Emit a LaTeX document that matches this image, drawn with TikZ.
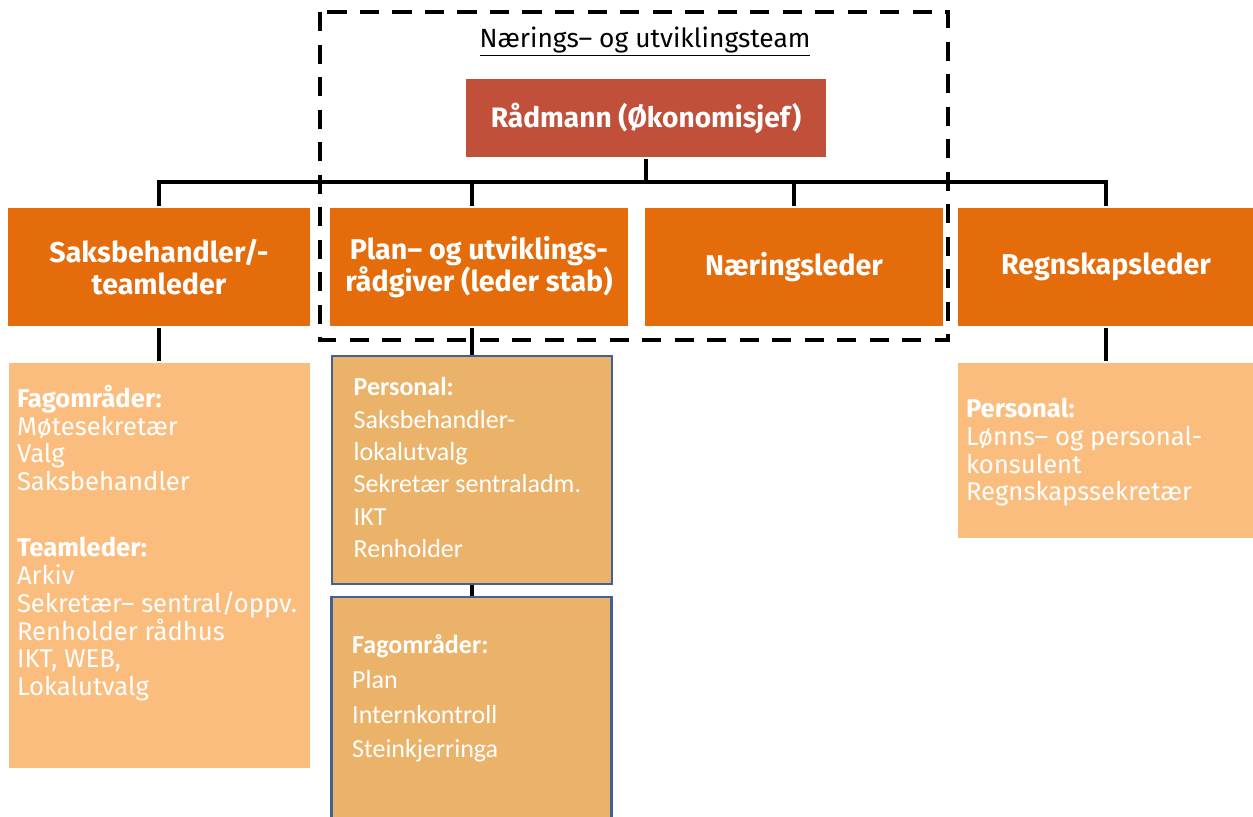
\documentclass[tikz,border=0pt]{standalone}
\usepackage{fontspec}
\setmainfont{Fira Sans}
\newfontfamily\calfont{Carlito}
\usetikzlibrary{positioning}
\usetikzlibrary{calc}

\definecolor{raadred}{RGB}{192,80,58}
\definecolor{leadorange}{RGB}{228,108,10}
\definecolor{lightorange}{RGB}{251,189,126}
\definecolor{staborange}{RGB}{235,179,106}
\definecolor{stabblue}{RGB}{65,96,154}

\newlength\pxu
\setlength\pxu{0.02cm}

\begin{document}
\begin{tikzpicture}[
                x = 0.02cm, y = -0.02cm, % one unit = one pixel
                line width = 2pt, % connector style
                inner sep = 0pt
        ]

        \tikzstyle{leader}=[
            fill = leadorange,
            text = white,
            font = \fontsize{16.3}{18.5}\selectfont\bfseries,
            align = center,
            minimum height = 118\pxu
        ]
        \tikzstyle{lightbox}=[
            fill = lightorange,
            minimum width = 300\pxu
        ]
        \tikzstyle{stabbox}=[
            fill = staborange,
            draw = stabblue,
            line width = 1.2pt,
            minimum width = 280\pxu
        ]
        \tikzstyle{listtext}=[
            text = white,
            align = left,
            anchor = north west,
            font = \fontsize{14.6}{15.8}\selectfont
        ]
        \tikzstyle{stabtext}=[
            text = white,
            align = left,
            anchor = north west,
            font = \calfont\fontsize{14.8}{18.4}\selectfont
        ]
        \tikzstyle{teamframe}=[
            line width = 2.3pt,
            dash pattern = on 11pt off 7.5pt
        ]

        \useasboundingbox (0,0) rectangle (1253,816);

        % top of the chart
        \node (teamtitle) at (645,42) {\fontsize{15}{17}\selectfont\underline{Nærings– og utviklingsteam}};
        \node[fill = raadred, text = white, font = \fontsize{16}{18}\selectfont\bfseries,
              minimum width = 360\pxu, minimum height = 78\pxu] (rad) at (646,118) {Rådmann (Økonomisjef)};

        % leaders
        \node[leader, minimum width = 302\pxu] (saks) at (159,267) {Saksbehandler/-\\teamleder};
        \node[leader, minimum width = 298\pxu] (plan) at (479,267) {Plan– og utviklings-\\rådgiver (leder stab)};
        \node[leader, minimum width = 298\pxu] (naering) at (794,267) {Næringsleder};
        \node[leader, minimum width = 296\pxu] (regn) at (1106,267) {Regnskapsleder};

        % boxes below
        \node[lightbox, minimum width = 301\pxu, minimum height = 405\pxu] (fag) at (159.5,565.5) {};
        \node[stabbox, minimum height = 228\pxu] (pers) at (472,470) {};
        \node[stabbox, minimum height = 240\pxu] (fagplan) at (471.5,717) {};
        \node[lightbox, minimum width = 296\pxu, minimum height = 175\pxu] (persregn) at (1106,450.5) {};

        \node[listtext] (fagtxt) at ($(fag.north west)+(8,22)$)
            {\textbf{Fagområder:}\\Møtesekretær\\Valg\\Saksbehandler\\[22pt]
             \textbf{Teamleder:}\\Arkiv\\Sekretær– sentral/oppv.\\Renholder rådhus\\IKT, WEB,\\Lokalutvalg};
        \node[stabtext] (perstxt) at ($(pers.north west)+(21,21)$)
            {\textbf{Personal:}\\Saksbehandler-\\lokalutvalg\\Sekretær sentraladm.\\IKT\\Renholder};
        \node[stabtext, font = \calfont\fontsize{14.8}{19.8}\selectfont] (fagplantxt) at ($(fagplan.north west)+(20,37)$)
            {\textbf{Fagområder:}\\Plan\\Internkontroll\\Steinkjerringa};
        \node[listtext] (regntxt) at ($(persregn.north west)+(8,35)$)
            {\textbf{Personal:}\\Lønns– og personal-\\konsulent\\Regnskapssekretær};

        % connectors
        \coordinate (bus) at (0,182);
        \draw (rad.south) -- (rad.south |- bus);
        \draw (saks.north) -- (saks.north |- bus) -- (regn.north |- bus) -- (regn.north);
        \draw (bus -| pers.north) -- (plan.north -| pers.north);
        \draw (naering.north |- bus) -- (naering.north);
        \draw (saks.south) -- (saks.south |- fag.north);
        \draw (plan.south -| pers.north) -- (pers.north);
        \draw (pers.south) -- (pers.south |- fagplan.north);
        \draw (regn.south) -- (regn.south |- persregn.north);

        % the team
        \draw[teamframe] (320,12) rectangle (948,340);

\end{tikzpicture}
\end{document}
